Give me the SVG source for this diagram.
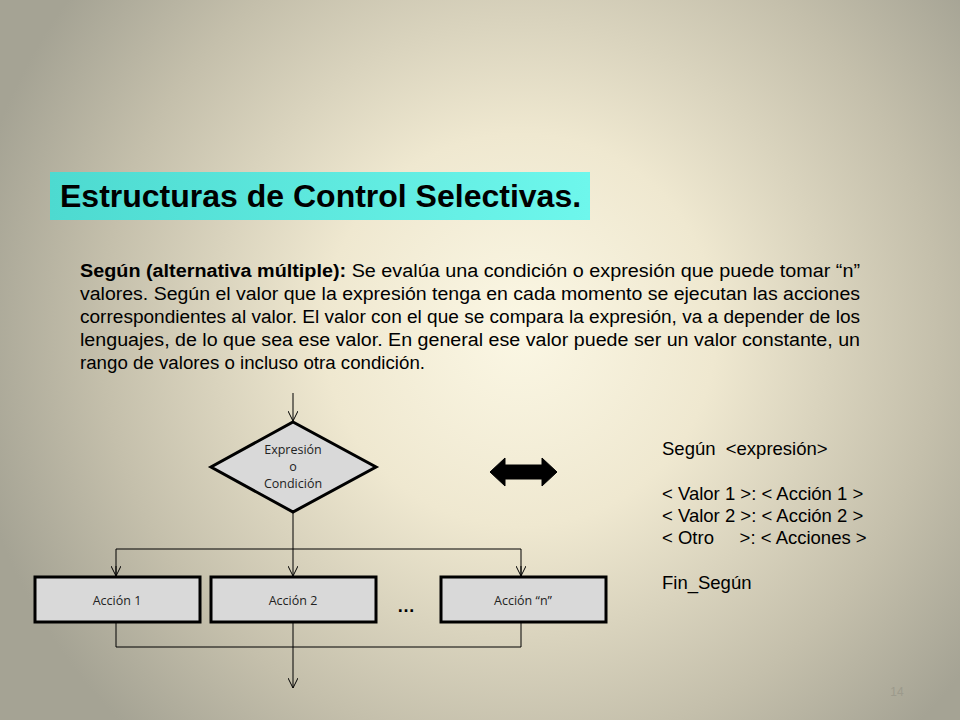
<svg xmlns="http://www.w3.org/2000/svg" width="960" height="720" viewBox="0 0 960 720">
<defs>
<radialGradient id="bg" cx="520" cy="330" r="560" gradientUnits="userSpaceOnUse">
<stop offset="0" stop-color="#fbf7e4"/>
<stop offset="0.35" stop-color="#efe8d0"/>
<stop offset="0.75" stop-color="#c4bfab"/>
<stop offset="1" stop-color="#a5a394"/>
</radialGradient>
<linearGradient id="tg" x1="0" y1="0" x2="1" y2="0">
<stop offset="0" stop-color="#4ddad0"/>
<stop offset="1" stop-color="#6ef7ec"/>
</linearGradient>
<marker id="av" viewBox="0 0 10 10" refX="10" refY="5" markerWidth="10" markerHeight="10" markerUnits="userSpaceOnUse" orient="auto">
<path d="M0,0 L10,5 L0,10" fill="none" stroke="#000" stroke-width="1"/>
</marker>
</defs>
<style>
.ttl{font-family:"Liberation Sans",Arial,sans-serif;font-weight:bold;font-size:32px;fill:#000}
.par{font-family:"Liberation Sans",Arial,sans-serif;font-size:18px;fill:#000}
.node{fill:#d9d9d9;stroke:#000;stroke-width:3}
.nt{font-family:"Open Sans","Liberation Sans",sans-serif;font-size:12.5px;fill:#222;text-anchor:middle}
.ln{fill:none;stroke:#000;stroke-width:1}
.code{font-family:"Liberation Sans",Arial,sans-serif;font-size:18.5px;fill:#000;white-space:pre}
</style>
<rect width="960" height="720" fill="url(#bg)"/>
<g id="title">
<rect x="50" y="172" width="540" height="48" fill="url(#tg)"/>
<text class="ttl" x="60" y="207">Estructuras de Control Selectivas.</text>
</g>
<g id="paragraph" class="par">
<text x="80" y="277" textLength="780" lengthAdjust="spacingAndGlyphs"><tspan font-weight="bold">Según (alternativa múltiple):</tspan> Se evalúa una condición o expresión que puede tomar “n”</text>
<text x="80" y="300" textLength="780" lengthAdjust="spacingAndGlyphs">valores. Según el valor que la expresión tenga en cada momento se ejecutan las acciones</text>
<text x="80" y="323" textLength="780" lengthAdjust="spacingAndGlyphs">correspondientes al valor. El valor con el que se compara la expresión, va a depender de los</text>
<text x="80" y="346" textLength="780" lengthAdjust="spacingAndGlyphs">lenguajes, de lo que sea ese valor. En general ese valor puede ser un valor constante, un</text>
<text x="80" y="369" textLength="345" lengthAdjust="spacingAndGlyphs">rango de valores o incluso otra condición.</text>
</g>
<g id="connectors">
<line class="ln" x1="293" y1="393" x2="293" y2="421" marker-end="url(#av)"/>
<line class="ln" x1="293" y1="512" x2="293" y2="576" marker-end="url(#av)"/>
<polyline class="ln" points="116,576 116,549 521,549 521,576"/>
<line class="ln" x1="116" y1="566" x2="116" y2="576" marker-end="url(#av)"/>
<line class="ln" x1="521" y1="566" x2="521" y2="576" marker-end="url(#av)"/>
<polyline class="ln" points="116,623 116,647 521,647 521,623"/>
<line class="ln" x1="293" y1="623" x2="293" y2="688" marker-end="url(#av)"/>
</g>
<g id="decision">
<polygon class="node" points="293,422 376,467 293,512 211,467"/>
<text class="nt" x="293" y="454">Expresión</text>
<text class="nt" x="293" y="471">o</text>
<text class="nt" x="293" y="488">Condición</text>
</g>
<g id="accion1">
<rect class="node" x="35" y="577" width="165" height="45"/>
<text class="nt" x="117" y="605">Acción 1</text>
</g>
<g id="accion2">
<rect class="node" x="211" y="577" width="165" height="45"/>
<text class="nt" x="293" y="605">Acción 2</text>
</g>
<g id="accionn">
<rect class="node" x="441" y="577" width="165" height="45"/>
<text class="nt" x="523" y="605">Acción “n”</text>
</g>
<g id="dots">
<text x="406" y="612" font-family="Liberation Sans,Arial,sans-serif" font-weight="bold" font-size="18" text-anchor="middle">…</text>
</g>
<g id="double-arrow">
<polygon points="490,472 505,458 505,465 542,465 542,458 557,472 542,486 542,479 505,479 505,486" fill="#000" stroke="#000" stroke-width="1" stroke-linejoin="round"/>
</g>
<g id="pseudocode" class="code">
<text x="662" y="455" xml:space="preserve">Según  &lt;expresión&gt;</text>
<text x="662" y="500" xml:space="preserve">&lt; Valor 1 &gt;: &lt; Acción 1 &gt;</text>
<text x="662" y="522" xml:space="preserve">&lt; Valor 2 &gt;: &lt; Acción 2 &gt;</text>
<text x="662" y="544" xml:space="preserve">&lt; Otro     &gt;: &lt; Acciones &gt;</text>
<text x="662" y="589">Fin_Según</text>
</g>
<text x="897" y="696" font-family="Liberation Sans,Arial,sans-serif" font-size="12" fill="#9c9a8c" text-anchor="middle">14</text>
</svg>
